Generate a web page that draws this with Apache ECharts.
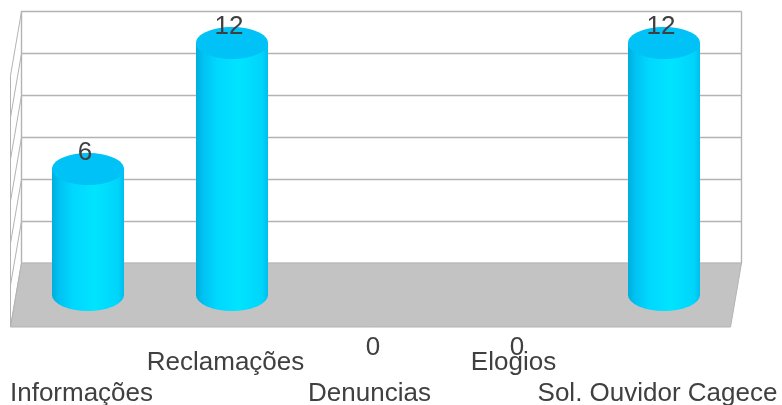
<!DOCTYPE HTML>
<html>
<head>
<meta charset="utf-8">
<title>Manifestações</title>
<script src="https://cdn.jsdelivr.net/npm/echarts@6/dist/echarts.min.js"></script>
<style type="text/css">
	html,body{margin:0;padding:0;background:#fff;}
	#main{width:782px;height:405px;}
</style>
</head>
<body>
<div id="main"></div>
<script type="text/javascript">
var categories = ['Informações','Reclamações','Denuncias','Elogios','Sol. Ouvidor Cagece'];
var values = [6,12,0,0,12];
var wallTicks = [0,2,4,6,8,10,12];

var textColor = '#404040';
var lineColor = '#b3b3b3';
var fontName = '"Liberation Sans", Arial, sans-serif';
var fontSize = 26;
/* depth of the fake 3d box */
var depthX = 11;
var depthY = 64;
var ellipseRy = 16;

var myChart = echarts.init(document.getElementById('main'), null, {renderer:'canvas'});

function wallItem(params, api){
	var left = params.coordSys.x;
	var right = params.coordSys.x + params.coordSys.width;
	var bottom = params.coordSys.y + params.coordSys.height;
	var top = params.coordSys.y;
	var children = [{
		type:'line',
		shape:{x1:left-depthX,y1:top+depthY,x2:left-depthX,y2:bottom+depthY},
		style:{stroke:lineColor,lineWidth:1}
	},{
		type:'line',
		shape:{x1:right,y1:top,x2:right,y2:bottom},
		style:{stroke:lineColor,lineWidth:1.4}
	}];
	wallTicks.forEach(function(t){
		var y = api.coord([0,t])[1];
		children.push({
			type:'line',
			shape:{x1:left,y1:y,x2:left-depthX,y2:y+depthY},
			style:{stroke:lineColor,lineWidth:1}
		});
	});
	children.push({
		type:'polygon',
		shape:{points:[[left,bottom],[right,bottom],[right-depthX,bottom+depthY],[left-depthX,bottom+depthY]]},
		style:{fill:'#c3c3c3',stroke:lineColor,lineWidth:1}
	});
	return {type:'group',children:children};
}

function cylinderItem(params, api){
	var v = api.value(1);
	var base = api.coord([api.value(0),0]);
	var top = api.coord([api.value(0),v]);
	var rx = api.size([1,0])[0]/4;
	var cx = base[0];
	var children = [];
	if(v > 0){
		var grad = new echarts.graphic.LinearGradient(0,0,1,0,[
			{offset:0,color:'#00aedd'},
			{offset:0.1,color:'#00c2f2'},
			{offset:0.3,color:'#00d8ff'},
			{offset:0.6,color:'#00e4ff'},
			{offset:0.92,color:'#00d4fb'},
			{offset:1,color:'#00bdee'}
		]);
		children.push({
			type:'path',
			shape:{
				pathData:'M'+(cx-rx)+' '+top[1]+'L'+(cx-rx)+' '+base[1]
					+'A'+rx+' '+ellipseRy+' 0 0 0 '+(cx+rx)+' '+base[1]
					+'L'+(cx+rx)+' '+top[1]+'Z'
			},
			style:{fill:grad}
		});
		children.push({
			type:'ellipse',
			shape:{cx:cx,cy:top[1],rx:rx,ry:ellipseRy},
			style:{fill:'#00c2f7'}
		});
	}
	children.push({
		type:'text',
		x:cx-3,
		y:v > 0 ? top[1]-16 : base[1]+53,
		style:{text:String(v),fontSize:fontSize,fontFamily:fontName,fill:textColor,align:'center',verticalAlign:'middle'}
	});
	return {type:'group',children:children};
}

var seriesData = categories.map(function(c,i){ return [i,values[i]]; });

var option = {
	animation:false,
	backgroundColor:'#fff',
	grid:[
		{left:21.5,top:11.5,width:720,height:251.5,show:false,outerBoundsMode:'none'},
		{left:16,top:43,width:720,height:252,show:false,outerBoundsMode:'none'}
	],
	xAxis:[
		{gridIndex:0,type:'category',data:categories,show:false},
		{gridIndex:1,type:'category',data:categories,position:'bottom',
			axisLine:{show:false},axisTick:{show:false},
			axisLabel:{
				interval:function(i){ return i%2===0; },
				margin:84,color:textColor,fontSize:fontSize,fontFamily:fontName,padding:[0,13,0,0],
				hideOverlap:false,lineHeight:30
			}
		},
		{gridIndex:1,type:'category',data:categories,position:'bottom',
			axisLine:{show:false},axisTick:{show:false},
			axisLabel:{
				interval:function(i){ return i%2===1; },
				margin:53,color:textColor,fontSize:fontSize,fontFamily:fontName,padding:[0,13,0,0],
				hideOverlap:false,lineHeight:30
			}
		}
	],
	yAxis:[
		{gridIndex:0,type:'value',min:0,max:12,interval:2,
			axisLabel:{show:false},axisTick:{show:false},
			axisLine:{show:true,lineStyle:{color:lineColor,width:1.4}},
			splitLine:{show:true,lineStyle:{color:lineColor,width:1.4,type:'solid'}}
		},
		{gridIndex:1,type:'value',min:0,max:12,interval:2,show:false,splitLine:{show:false}}
	],
	series:[
		{type:'custom',xAxisIndex:0,yAxisIndex:0,renderItem:wallItem,data:[[0,0]],silent:true,z:1,clip:false},
		{type:'custom',xAxisIndex:1,yAxisIndex:1,renderItem:cylinderItem,data:seriesData,silent:true,z:3,clip:false}
	]
};
myChart.setOption(option,true);
</script>
</body>
</html>
